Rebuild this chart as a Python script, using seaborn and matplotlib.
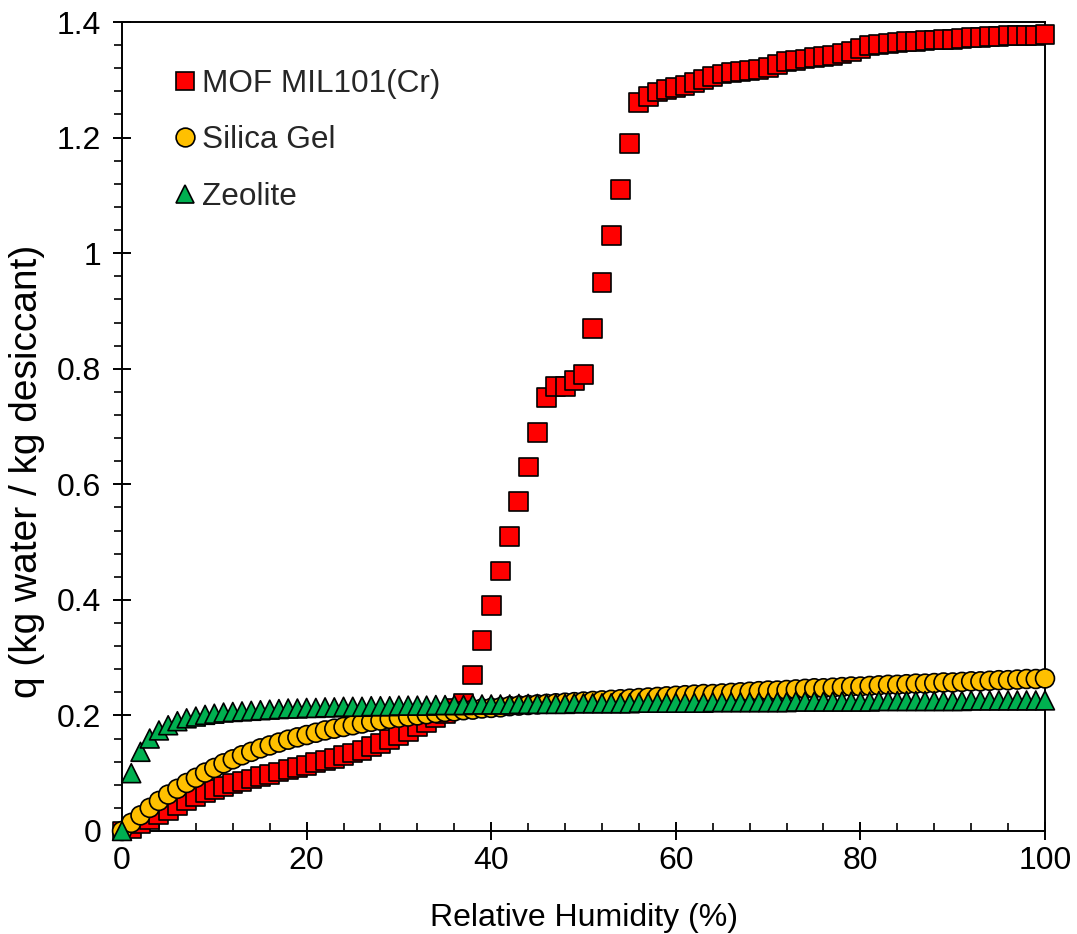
import matplotlib
matplotlib.use("Agg")
import matplotlib.pyplot as plt
from matplotlib.ticker import MultipleLocator, FixedLocator
import seaborn as sns
import pandas as pd

# Water uptake isotherms at 0..100 % relative humidity, 1 % steps
rh = list(range(0, 101))

mof_mil101 = [
    0.0, 0.005, 0.012, 0.02, 0.028, 0.036, 0.044, 0.052, 0.059, 0.066,
    0.072, 0.077, 0.082, 0.086, 0.09, 0.094, 0.098, 0.102, 0.106, 0.11,
    0.114, 0.118, 0.122, 0.126, 0.13, 0.135, 0.14, 0.146, 0.152, 0.158,
    0.165, 0.172, 0.18, 0.188, 0.196, 0.204, 0.212, 0.22, 0.27, 0.33,
    0.39, 0.45, 0.51, 0.57, 0.63, 0.69, 0.75, 0.77, 0.77, 0.78,
    0.79, 0.87, 0.95, 1.03, 1.11, 1.19, 1.26, 1.271, 1.279, 1.283,
    1.287, 1.29, 1.295, 1.3, 1.305, 1.31, 1.312, 1.314, 1.316, 1.318,
    1.321, 1.326, 1.331, 1.334, 1.336, 1.338, 1.34, 1.342, 1.346, 1.349,
    1.354, 1.359, 1.361, 1.363, 1.364, 1.366, 1.367, 1.368, 1.369, 1.37,
    1.37, 1.371, 1.373, 1.374, 1.375, 1.375, 1.376, 1.376, 1.377, 1.377,
    1.379,
]

silica_gel = [
    0.0, 0.014, 0.027, 0.04, 0.052, 0.063, 0.073, 0.083, 0.092, 0.101,
    0.109, 0.117, 0.124, 0.131, 0.137, 0.143, 0.148, 0.153, 0.158, 0.162,
    0.166, 0.17, 0.174, 0.177, 0.18, 0.183, 0.186, 0.189, 0.191, 0.194,
    0.196, 0.198, 0.2, 0.202, 0.204, 0.206, 0.207, 0.209, 0.21, 0.212,
    0.213, 0.214, 0.216, 0.217, 0.218, 0.219, 0.22, 0.221, 0.222, 0.223,
    0.224, 0.225, 0.226, 0.227, 0.228, 0.229, 0.23, 0.231, 0.232, 0.233,
    0.234, 0.235, 0.236, 0.237, 0.237, 0.238, 0.239, 0.24, 0.241, 0.242,
    0.243, 0.243, 0.244, 0.245, 0.246, 0.247, 0.247, 0.248, 0.249, 0.25,
    0.25, 0.251, 0.252, 0.253, 0.253, 0.254, 0.255, 0.255, 0.256, 0.257,
    0.257, 0.258, 0.259, 0.259, 0.26, 0.261, 0.261, 0.262, 0.263, 0.263,
    0.264,
]

zeolite = [
    0.0, 0.1, 0.137, 0.16, 0.174, 0.183, 0.19, 0.195, 0.198, 0.201,
    0.203, 0.205, 0.206, 0.207, 0.208, 0.209, 0.21, 0.211, 0.212, 0.212,
    0.213, 0.213, 0.214, 0.214, 0.215, 0.215, 0.215, 0.216, 0.216, 0.216,
    0.217, 0.217, 0.217, 0.217, 0.218, 0.218, 0.218, 0.218, 0.219, 0.219,
    0.219, 0.219, 0.219, 0.22, 0.22, 0.22, 0.22, 0.22, 0.22, 0.221,
    0.221, 0.221, 0.221, 0.221, 0.221, 0.221, 0.222, 0.222, 0.222, 0.222,
    0.222, 0.222, 0.222, 0.222, 0.223, 0.223, 0.223, 0.223, 0.223, 0.223,
    0.223, 0.223, 0.223, 0.224, 0.224, 0.224, 0.224, 0.224, 0.224, 0.224,
    0.224, 0.224, 0.225, 0.225, 0.225, 0.225, 0.225, 0.225, 0.225, 0.225,
    0.225, 0.225, 0.226, 0.226, 0.226, 0.226, 0.226, 0.226, 0.226, 0.226,
    0.226,
]

series_names = ["MOF MIL101(Cr)", "Silica Gel", "Zeolite"]
series_values = [mof_mil101, silica_gel, zeolite]
series_colors = ["#FF0000", "#FFC000", "#00B050"]
series_markers = ["s", "o", "^"]

x_ticks = [0, 20, 40, 60, 80, 100]
y_ticks = [0, 0.2, 0.4, 0.6, 0.8, 1.0, 1.2, 1.4]
y_tick_labels = ["0", "0.2", "0.4", "0.6", "0.8", "1", "1.2", "1.4"]

frames = [pd.DataFrame({"rh": rh, "q": vals, "material": name})
          for name, vals in zip(series_names, series_values)]
df = pd.concat(frames, ignore_index=True)

sns.set_theme(style="ticks")
plt.rcParams["font.family"] = ["Liberation Sans", "DejaVu Sans"]

fig = plt.figure(figsize=(10.77, 9.34), dpi=100)
ax = fig.add_axes([0.1133, 0.1103, 0.857, 0.8661])

sns.scatterplot(
    data=df, x="rh", y="q", hue="material", style="material",
    hue_order=series_names, style_order=series_names,
    palette=dict(zip(series_names, series_colors)),
    markers=dict(zip(series_names, series_markers)),
    s=185, edgecolor="black", linewidth=1.2, clip_on=False, zorder=3,
    legend=True, ax=ax,
)

ax.set_xlim(0, 100)
ax.set_ylim(0, 1.4)
ax.xaxis.set_major_locator(FixedLocator(x_ticks))
ax.xaxis.set_minor_locator(MultipleLocator(4))
ax.yaxis.set_major_locator(FixedLocator(y_ticks))
ax.yaxis.set_minor_locator(MultipleLocator(0.04))
ax.set_yticklabels(y_tick_labels)

for side in ["left", "bottom", "top", "right"]:
    ax.spines[side].set_visible(True)
    ax.spines[side].set_color("black")
    ax.spines[side].set_linewidth(1.4)

ax.tick_params(axis="both", which="major", direction="inout", length=13,
               width=1.4, color="black", labelsize=23, labelcolor="black",
               top=False, right=False)
ax.tick_params(axis="x", which="major", pad=4)
ax.tick_params(axis="y", which="major", pad=8.5)
ax.tick_params(axis="x", which="minor", direction="in", length=6, width=1.2,
               color="black", top=False)
ax.tick_params(axis="y", which="minor", direction="out", length=6, width=1.2,
               color="black", right=False)

ax.set_xlabel("Relative Humidity (%)", fontsize=23, color="black", labelpad=20)
ax.set_ylabel("q (kg water / kg desiccant)", fontsize=28, color="black")
ax.yaxis.set_label_coords(-0.083, 0.445)

handles, labels = ax.get_legend_handles_labels()
ax.get_legend().remove()
for h, c, m in zip(handles, series_colors, series_markers):
    h.set_markersize(13.5)
    h.set_markeredgecolor("black")
    h.set_markeredgewidth(1.2)
    h.set_markerfacecolor(c)
    h.set_marker(m)
ax.legend(handles, labels, loc="upper left", bbox_to_anchor=(0.0444, 0.958),
          frameon=False, fontsize=22.7, handlelength=0.6, handletextpad=0.24,
          labelspacing=0.85, borderaxespad=0)

fig.savefig("out.png", dpi=100)
